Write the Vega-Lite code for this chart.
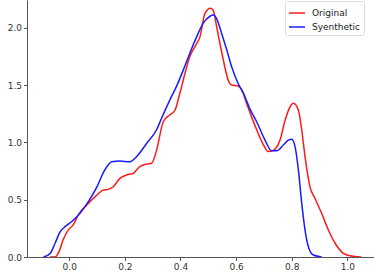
{
  "$schema": "https://vega.github.io/schema/vega-lite/v6.json",
  "autosize": "none",
  "width": 347,
  "height": 257,
  "padding": {"left": 27, "top": 0, "right": 0, "bottom": 18},
  "background": "white",
  "config": {"view": {"stroke": null}, "font": "DejaVu Sans"},
  "data": {"values": [
    {"s": "Original", "x": -0.07, "y": 0.0},
    {"s": "Original", "x": -0.051, "y": 0.0},
    {"s": "Original", "x": -0.038, "y": 0.04},
    {"s": "Original", "x": -0.022, "y": 0.15},
    {"s": "Original", "x": -0.004, "y": 0.235},
    {"s": "Original", "x": 0.014, "y": 0.28},
    {"s": "Original", "x": 0.032, "y": 0.366},
    {"s": "Original", "x": 0.063, "y": 0.454},
    {"s": "Original", "x": 0.099, "y": 0.54},
    {"s": "Original", "x": 0.122, "y": 0.584},
    {"s": "Original", "x": 0.14, "y": 0.59},
    {"s": "Original", "x": 0.158, "y": 0.613},
    {"s": "Original", "x": 0.182, "y": 0.686},
    {"s": "Original", "x": 0.206, "y": 0.715},
    {"s": "Original", "x": 0.23, "y": 0.73},
    {"s": "Original", "x": 0.254, "y": 0.788},
    {"s": "Original", "x": 0.278, "y": 0.81},
    {"s": "Original", "x": 0.296, "y": 0.817},
    {"s": "Original", "x": 0.314, "y": 0.93},
    {"s": "Original", "x": 0.338, "y": 1.18},
    {"s": "Original", "x": 0.362, "y": 1.24},
    {"s": "Original", "x": 0.38, "y": 1.28},
    {"s": "Original", "x": 0.398, "y": 1.43},
    {"s": "Original", "x": 0.416, "y": 1.6},
    {"s": "Original", "x": 0.434, "y": 1.75},
    {"s": "Original", "x": 0.458, "y": 1.86},
    {"s": "Original", "x": 0.47, "y": 1.92},
    {"s": "Original", "x": 0.488, "y": 2.125},
    {"s": "Original", "x": 0.507, "y": 2.17},
    {"s": "Original", "x": 0.518, "y": 2.15},
    {"s": "Original", "x": 0.53, "y": 2.01},
    {"s": "Original", "x": 0.542, "y": 1.86},
    {"s": "Original", "x": 0.554, "y": 1.72},
    {"s": "Original", "x": 0.572, "y": 1.54},
    {"s": "Original", "x": 0.584, "y": 1.5},
    {"s": "Original", "x": 0.608, "y": 1.49},
    {"s": "Original", "x": 0.62, "y": 1.46},
    {"s": "Original", "x": 0.638, "y": 1.34},
    {"s": "Original", "x": 0.656, "y": 1.22},
    {"s": "Original", "x": 0.674, "y": 1.11},
    {"s": "Original", "x": 0.698, "y": 0.98},
    {"s": "Original", "x": 0.716, "y": 0.92},
    {"s": "Original", "x": 0.734, "y": 0.93},
    {"s": "Original", "x": 0.758, "y": 1.02},
    {"s": "Original", "x": 0.776, "y": 1.19},
    {"s": "Original", "x": 0.794, "y": 1.31},
    {"s": "Original", "x": 0.806, "y": 1.34},
    {"s": "Original", "x": 0.824, "y": 1.28},
    {"s": "Original", "x": 0.836, "y": 1.11},
    {"s": "Original", "x": 0.848, "y": 0.875},
    {"s": "Original", "x": 0.866, "y": 0.61},
    {"s": "Original", "x": 0.884, "y": 0.51},
    {"s": "Original", "x": 0.908, "y": 0.38},
    {"s": "Original", "x": 0.932, "y": 0.235},
    {"s": "Original", "x": 0.956, "y": 0.12},
    {"s": "Original", "x": 0.986, "y": 0.032},
    {"s": "Original", "x": 1.01, "y": 0.01},
    {"s": "Original", "x": 1.05, "y": 0.0},
    {"s": "Syenthetic", "x": -0.093, "y": 0.0},
    {"s": "Syenthetic", "x": -0.069, "y": 0.03},
    {"s": "Syenthetic", "x": -0.051, "y": 0.12},
    {"s": "Syenthetic", "x": -0.033, "y": 0.22},
    {"s": "Syenthetic", "x": -0.015, "y": 0.265},
    {"s": "Syenthetic", "x": 0.009, "y": 0.31},
    {"s": "Syenthetic", "x": 0.038, "y": 0.38},
    {"s": "Syenthetic", "x": 0.068, "y": 0.48},
    {"s": "Syenthetic", "x": 0.099, "y": 0.61},
    {"s": "Syenthetic", "x": 0.128, "y": 0.76},
    {"s": "Syenthetic", "x": 0.153, "y": 0.83},
    {"s": "Syenthetic", "x": 0.182, "y": 0.837},
    {"s": "Syenthetic", "x": 0.218, "y": 0.83},
    {"s": "Syenthetic", "x": 0.242, "y": 0.875},
    {"s": "Syenthetic", "x": 0.278, "y": 0.99},
    {"s": "Syenthetic", "x": 0.314, "y": 1.11},
    {"s": "Syenthetic", "x": 0.332, "y": 1.21},
    {"s": "Syenthetic", "x": 0.362, "y": 1.37},
    {"s": "Syenthetic", "x": 0.386, "y": 1.49},
    {"s": "Syenthetic", "x": 0.41, "y": 1.63},
    {"s": "Syenthetic", "x": 0.434, "y": 1.78},
    {"s": "Syenthetic", "x": 0.458, "y": 1.92},
    {"s": "Syenthetic", "x": 0.482, "y": 2.04},
    {"s": "Syenthetic", "x": 0.506, "y": 2.1},
    {"s": "Syenthetic", "x": 0.518, "y": 2.11},
    {"s": "Syenthetic", "x": 0.53, "y": 2.08},
    {"s": "Syenthetic", "x": 0.548, "y": 1.95},
    {"s": "Syenthetic", "x": 0.566, "y": 1.81},
    {"s": "Syenthetic", "x": 0.584, "y": 1.66},
    {"s": "Syenthetic", "x": 0.608, "y": 1.51},
    {"s": "Syenthetic", "x": 0.626, "y": 1.43},
    {"s": "Syenthetic", "x": 0.65, "y": 1.29},
    {"s": "Syenthetic", "x": 0.674, "y": 1.18},
    {"s": "Syenthetic", "x": 0.704, "y": 1.02},
    {"s": "Syenthetic", "x": 0.728, "y": 0.927},
    {"s": "Syenthetic", "x": 0.746, "y": 0.927},
    {"s": "Syenthetic", "x": 0.77, "y": 0.977},
    {"s": "Syenthetic", "x": 0.788, "y": 1.02},
    {"s": "Syenthetic", "x": 0.8, "y": 1.027},
    {"s": "Syenthetic", "x": 0.812, "y": 0.962},
    {"s": "Syenthetic", "x": 0.824, "y": 0.76},
    {"s": "Syenthetic", "x": 0.836, "y": 0.47},
    {"s": "Syenthetic", "x": 0.848, "y": 0.235},
    {"s": "Syenthetic", "x": 0.86, "y": 0.09},
    {"s": "Syenthetic", "x": 0.878, "y": 0.017},
    {"s": "Syenthetic", "x": 0.908, "y": 0.0}
  ]},
  "mark": {"type": "line", "interpolate": "monotone", "strokeWidth": 1.5, "clip": true},
  "encoding": {
    "x": {"field": "x", "type": "quantitative",
      "scale": {"domain": [-0.152, 1.096], "nice": false, "zero": false},
      "axis": {"title": null, "values": [0, 0.2, 0.4, 0.6, 0.8, 1.0], "format": ".1f", "grid": false,
        "domainColor": "#555", "tickColor": "#555", "tickSize": 3.5, "labelFontSize": 9, "labelColor": "#333", "labelPadding": 2, "labelFlush": false}},
    "y": {"field": "y", "type": "quantitative",
      "scale": {"domain": [0, 2.2416], "nice": false},
      "axis": {"title": null, "values": [0, 0.5, 1.0, 1.5, 2.0], "format": ".1f", "grid": false,
        "domainColor": "#555", "tickColor": "#555", "tickSize": 3.5, "labelFontSize": 9, "labelColor": "#333", "labelPadding": 2, "labelFlush": false}},
    "color": {"field": "s", "type": "nominal",
      "scale": {"domain": ["Original", "Syenthetic"], "range": ["#ff1a1a", "#1a1aff"]},
      "legend": {"title": null, "orient": "none", "legendX": 258, "legendY": 1,
        "symbolType": "stroke", "symbolSize": 256, "symbolStrokeWidth": 1.5,
        "labelFontSize": 9, "labelColor": "#222", "rowPadding": 0, "labelOffset": 6,
        "padding": 3, "strokeColor": "#ddd", "fillColor": "white", "cornerRadius": 2}}
  }
}
